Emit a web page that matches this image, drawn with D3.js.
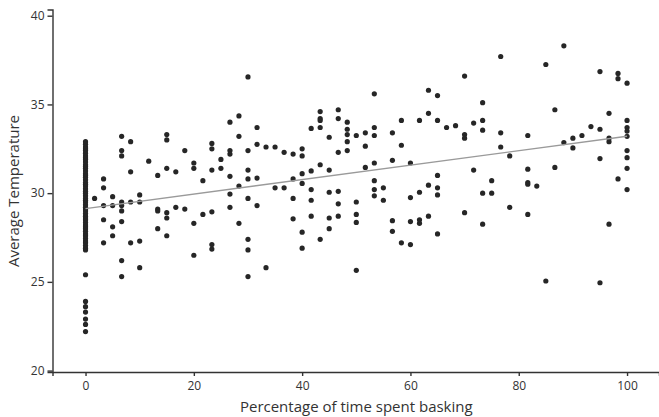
<!DOCTYPE html>
<html>
<head>
<meta charset="utf-8">
<script src="https://cdn.jsdelivr.net/npm/d3@7"></script>
<style>
  body { margin: 0; background: #fff; }
  text { font-family: "Open Sans", "Noto Sans", sans-serif; fill: #333; }
</style>
</head>
<body>
<div id="chart"></div>
<script>
// basking percentage (x) and the temperatures recorded at it (y)
const baskingPct = [
  0, 1.67, 3.33, 5, 6.67, 8.33, 10, 11.67, 13.33, 15, 16.67, 18.33, 20, 21.67,
  23.33, 25, 26.67, 28.33, 30, 31.67, 33.33, 35, 36.67, 38.33, 40, 41.67, 43.33,
  45, 46.67, 48.33, 50, 51.67, 53.33, 55, 56.67, 58.33, 60, 61.67, 63.33, 65,
  66.67, 68.33, 70, 71.67, 73.33, 75, 76.67, 78.33, 81.67, 83.33, 85, 86.67,
  88.33, 90, 91.67, 93.33, 95, 96.67, 98.33, 100
];
const tempsAtPct = [
  [22.2, 22.6, 22.9, 23.3, 23.6, 23.9, 25.4, 26.8, 26.9, 27.05, 27.2, 27.3, 27.45,
   27.6, 27.7, 27.85, 28.0, 28.1, 28.2, 28.35, 28.5, 28.6, 28.7, 28.85, 29.0, 29.1,
   29.2, 29.35, 29.5, 29.6, 29.7, 29.85, 30.0, 30.1, 30.25, 30.4, 30.5, 30.6, 30.75,
   30.9, 31.0, 31.1, 31.25, 31.4, 31.5, 31.6, 31.75, 31.9, 32.0, 32.1, 32.25, 32.4,
   32.5, 32.6, 32.75, 32.9],
  [29.7],
  [30.8, 30.3, 29.3, 28.5, 27.2],
  [29.8, 29.3, 28.1, 27.6],
  [33.2, 32.4, 32.1, 29.5, 29.3, 29.0, 28.4, 26.2, 25.3],
  [32.9, 31.2, 29.5, 27.2],
  [29.9, 29.5, 27.3, 25.8],
  [31.8],
  [31.0, 29.1, 29.0, 28.0],
  [33.3, 33.0, 31.4, 28.9, 28.6, 27.6],
  [31.2, 29.2],
  [32.4, 29.1],
  [31.7, 31.4, 28.3, 26.5],
  [30.7, 28.8],
  [32.8, 32.5, 31.3, 28.95, 27.1, 26.85],
  [31.9, 31.4],
  [34.0, 32.4, 32.2, 30.95, 29.95, 29.2],
  [34.35, 33.2, 30.4, 28.3],
  [36.55, 32.4, 31.3, 30.8, 29.7, 27.4, 26.8, 25.3],
  [33.7, 32.75, 30.85, 29.3],
  [32.6, 25.8],
  [32.6, 30.3],
  [32.3, 30.3],
  [32.2, 30.8, 29.7, 28.55],
  [32.5, 32.1, 31.1, 30.55, 27.8, 26.9],
  [33.65, 31.25, 30.2, 29.6, 28.7],
  [34.6, 34.2, 34.1, 33.7, 31.6, 27.4],
  [33.15, 31.3, 30.05, 28.6, 28.0],
  [34.7, 34.2, 32.3, 30.1, 29.4, 28.7],
  [34.0, 33.6, 33.3, 32.9, 32.4],
  [33.25, 29.5, 28.8, 28.35, 25.65],
  [33.4, 32.65, 31.45],
  [35.6, 33.7, 33.25, 31.7, 30.7, 30.2, 29.85],
  [30.3, 29.6],
  [33.4, 31.85, 28.45, 27.85],
  [34.1, 32.7, 27.2],
  [31.7, 29.75, 28.4, 27.1],
  [34.1, 30.05, 28.5, 28.3],
  [35.8, 34.5, 30.45, 28.7],
  [35.5, 34.1, 31.0, 30.3, 29.9, 27.7],
  [33.7],
  [33.8],
  [36.6, 33.3, 33.1, 28.9],
  [33.95, 31.3],
  [35.1, 34.1, 33.55, 30.0, 28.25],
  [30.7, 30.0],
  [37.7, 33.4, 32.6],
  [32.1, 29.2],
  [33.25, 31.35, 30.6, 30.5, 28.8],
  [30.4],
  [37.25, 25.05],
  [34.7, 31.45],
  [38.3, 32.85],
  [33.1, 32.55],
  [33.25],
  [33.75],
  [36.85, 33.6, 31.95, 24.95],
  [34.5, 33.1, 32.9, 28.25],
  [36.75, 36.45, 30.8],
  [36.2, 34.1, 33.7, 33.5, 33.2, 32.4, 32.0, 31.4, 30.2]
];

// fitted line at both ends
const fitX = [0, 100];
const fitY = [29.13, 33.21];

const xTicks = [0, 20, 40, 60, 80, 100];
const yTicks = [20, 25, 30, 35, 40];

const width = 659, height = 417;

const svg = d3.select("#chart").append("svg")
    .attr("width", width)
    .attr("height", height);

// scales (domains slightly padded so the axis lines run past the end ticks)
const x = d3.scaleLinear().domain([-6.1, 105.9]).range([52.5, 659]);
const y = d3.scaleLinear().domain([19.92, 40.35]).range([372, 9.5]);

// flatten the grouped values into points
const points = [];
baskingPct.forEach((p, i) => {
    tempsAtPct[i].forEach(t => points.push({ x: p, y: t }));
});

// x axis
const gx = svg.append("g")
    .attr("transform", "translate(0,372)")
    .call(d3.axisBottom(x).tickValues(xTicks).tickSizeOuter(0).tickSize(4).tickPadding(5));
gx.selectAll("text").style("font-size", "12px");

// y axis
const gy = svg.append("g")
    .attr("transform", "translate(52.5,0)")
    .call(d3.axisLeft(y).tickValues(yTicks).tickSizeOuter(0).tickSize(5).tickPadding(3));
gy.selectAll("text").style("font-size", "12px");

svg.selectAll(".domain, .tick line")
    .attr("stroke", "#333")
    .attr("stroke-width", 1.4);

// points
svg.append("g")
    .selectAll("circle")
    .data(points)
    .join("circle")
    .attr("cx", d => x(d.x))
    .attr("cy", d => y(d.y))
    .attr("r", 2.6)
    .attr("fill", "#262626");

// fit line
svg.append("line")
    .attr("x1", x(fitX[0]))
    .attr("y1", y(fitY[0]))
    .attr("x2", x(fitX[1]))
    .attr("y2", y(fitY[1]))
    .attr("stroke", "#9a9a9a")
    .attr("stroke-width", 1.4);

// axis titles
svg.append("text")
    .attr("x", x(50))
    .attr("y", 412)
    .attr("text-anchor", "middle")
    .style("font-size", "15px")
    .text("Percentage of time spent basking");

svg.append("text")
    .attr("transform", "translate(19,191) rotate(-90)")
    .attr("text-anchor", "middle")
    .style("font-size", "15px")
    .text("Average Temperature");
</script>
</body>
</html>
